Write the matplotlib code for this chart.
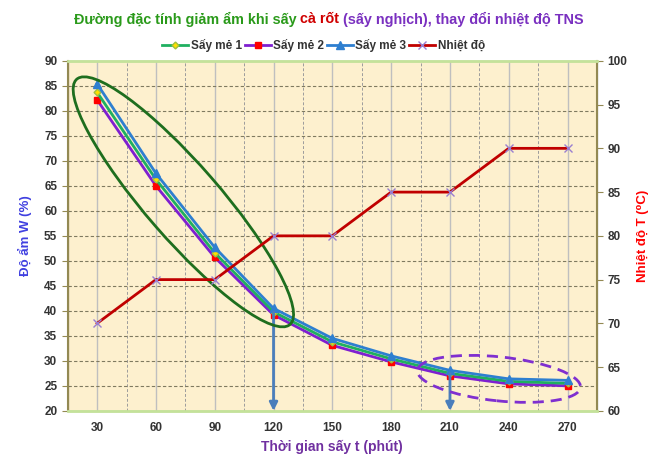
import matplotlib
matplotlib.use("Agg")
import matplotlib.pyplot as plt
import matplotlib.transforms as mtransforms
from matplotlib.patches import Ellipse

plt.rcParams['font.family'] = ['Liberation Sans', 'DejaVu Sans']
plt.rcParams['font.weight'] = 'bold'
plt.rcParams['axes.labelweight'] = 'bold'

# data
t = [30, 60, 90, 120, 150, 180, 210, 240, 270]
w1 = [83.7, 66.3, 51.6, 39.8, 33.8, 30.4, 27.5, 25.9, 25.5]
w2 = [82.2, 65.0, 50.7, 39.2, 33.1, 29.8, 27.0, 25.4, 25.0]
w3 = [85.4, 67.5, 52.7, 40.5, 34.5, 31.0, 28.1, 26.4, 26.1]
temp = [70, 75, 75, 80, 80, 85, 85, 90, 90]
labels = ['Sấy mẻ 1', 'Sấy mẻ 2', 'Sấy mẻ 3', 'Nhiệt độ']

fig = plt.figure(figsize=(6.51, 4.54), dpi=100)
ax = fig.add_axes([0.104, 0.095, 0.813, 0.771])
ax.set_facecolor('#FDF0CE')
ax2 = ax.twinx()

ax.set_xlim(15, 285)
ax.set_ylim(20, 90)
ax2.set_ylim(60, 100)
ax.set_xticks(t)
ax.set_yticks(range(20, 91, 5))
ax2.set_yticks(range(60, 101, 5))

# grid
for x in t:
    ax.axvline(x, color='#BFBFBF', lw=1, zorder=0)
    if x < 270:
        ax.axvline(x + 15, color='#9C9C9C', lw=0.7, ls=(0, (3, 2)), zorder=0)
for y in range(25, 90, 5):
    ax.axhline(y, color='#7F7A60', lw=0.8, ls=(0, (3, 2)), zorder=0)

l1, = ax.plot(t, w1, color='#1FB060', lw=2, marker='D', ms=3.5,
              mfc='#FFE000', mec='#A0C040', zorder=4)
l2, = ax.plot(t, w2, color='#7F1FD0', lw=2, marker='s', ms=5,
              mfc='#FF0000', mec='#FF0000', zorder=3)
l3, = ax.plot(t, w3, color='#2E7FD0', lw=2, marker='^', ms=5.5,
              mfc='#2E7FD0', mec='#2E7FD0', zorder=5)
l4, = ax2.plot(t, temp, color='#C00000', lw=2, marker='x', ms=6,
               mec='#9A7FD0', mew=1, zorder=3)

# arrows
for x, y in [(120, w1[3]), (210, w1[6])]:
    ax.annotate('', xy=(x, 20), xytext=(x, y),
                arrowprops=dict(arrowstyle='-|>', color='#4A7EBB', lw=2,
                                mutation_scale=12, shrinkA=0, shrinkB=0),
                annotation_clip=False, zorder=6)

# ellipses
def ell(cx, cy, wi, hi, ang, **kw):
    tr = fig.dpi_scale_trans + mtransforms.ScaledTranslation(cx, cy, ax.transData)
    e = Ellipse((0, 0), wi, hi, angle=ang, transform=tr, fill=False, **kw)
    ax2.add_patch(e)

ell(74, 61.8, 3.25, 0.74, -49, ec='#1E6E1E', lw=2)
ell(235, 26.4, 1.64, 0.44, -6, ec='#7F2FD0', lw=2, ls=(0, (4, 2.5)))

# spines
for s in ['top', 'bottom']:
    ax2.spines[s].set_color('#C4E29A')
    ax2.spines[s].set_linewidth(2)
for s in ['left', 'right']:
    ax2.spines[s].set_color('#938953')
    ax2.spines[s].set_linewidth(1.5)

ax.tick_params(axis='x', length=0, labelsize=8.5, labelcolor='#333333', pad=8)
ax.tick_params(axis='y', length=4, color='#938953', labelsize=8.5, labelcolor='#333333')
ax2.tick_params(axis='y', length=4, color='#938953', labelsize=8.5, labelcolor='#333333')
for lab in ax.get_xticklabels() + ax.get_yticklabels() + ax2.get_yticklabels():
    lab.set_fontweight('bold')

ax.set_xlabel('Thời gian sấy t (phút)', color='#7030A0', fontsize=10,
              fontweight='bold', labelpad=4)
ax.set_ylabel('Độ ẩm W (%)', color='#4040E0', fontsize=9.5,
              fontweight='bold', labelpad=9)
ax2.set_ylabel('Nhiệt độ T (⁰C)', color='#FF0000', fontsize=9.5,
               fontweight='bold', labelpad=7)

# title in three colours
parts = [('Đường đặc tính giảm ẩm khi sấy ', '#2A9A1A'),
         ('cà rốt', '#D00000'),
         (' (sấy nghịch), thay đổi nhiệt độ TNS', '#7A30C0')]
r = fig.canvas.get_renderer()
txts = []
for s, c in parts:
    tx = fig.text(0, 0.958, s, color=c, fontsize=10.4, fontweight='bold', va='center')
    txts.append(tx)
widths = [tx.get_window_extent(r).width / fig.bbox.width for tx in txts]
x0 = 0.505 - sum(widths) / 2
for tx, wd in zip(txts, widths):
    tx.set_x(x0)
    x0 += wd

leg = fig.legend([l1, l2, l3, l4], labels, loc='center', bbox_to_anchor=(0.497, 0.9),
                 ncol=4, frameon=False, handlelength=2.2,
                 columnspacing=0.25, handletextpad=0.2,
                 prop={'size': 8.5, 'weight': 'bold'})
for tx in leg.get_texts():
    tx.set_color('#333333')

fig.savefig('out.png', dpi=100)
